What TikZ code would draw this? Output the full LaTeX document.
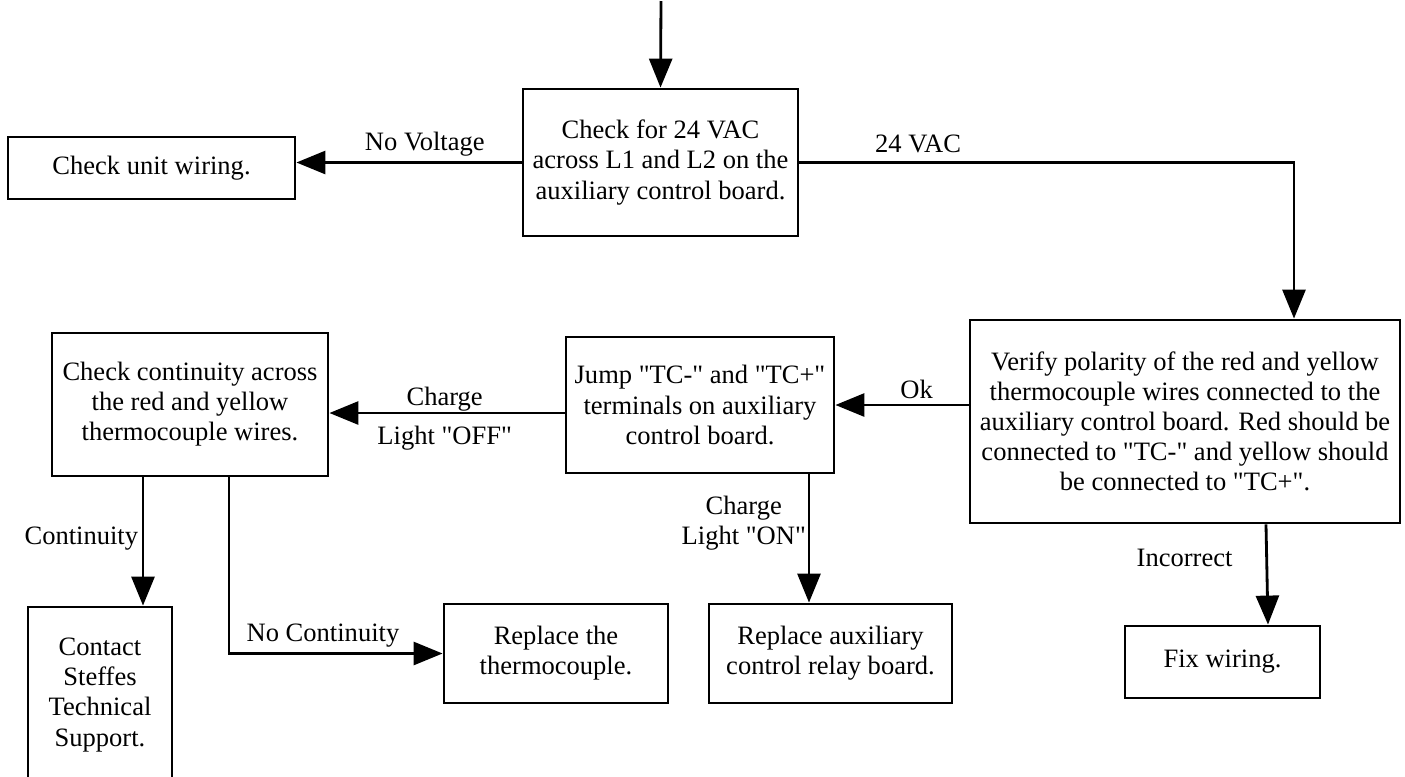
\documentclass[tikz,border=0pt]{standalone}
\usepackage{fontspec}
\setmainfont{Liberation Serif}
\usetikzlibrary{arrows.meta,positioning,calc}
\newcommand{\qt}[1]{\textquotedbl#1\textquotedbl}
\tikzset{
  flowarr/.style={-{Triangle[length=0.58cm,width=0.46cm]}, line width=1.6pt, draw=black},
  flowbox/.style={draw, line width=1.6pt, align=center, inner sep=3pt},
  flowlbl/.style={font=\fontsize{15.1}{17.1}\selectfont, inner sep=3pt},
}

\begin{document}
\begin{tikzpicture}[
  font=\fontsize{15.1}{17.1}\selectfont,
  bx/.style={flowbox, minimum width=#1},
]
  \clip (0,0) rectangle (28.1,-15.52);
  \coordinate (entry) at (13.22,-0.02);
  % boxes
  \node[bx=5.5cm, minimum height=2.94cm] (chk24) at (13.21,-3.25) {Check for 24 VAC\\across L1 and L2 on the\\auxiliary control board.};
  \node[bx=5.74cm, minimum height=1.24cm] (unitw) at (3.03,-3.36) {Check unit wiring.};
  \node[bx=8.6cm, minimum height=4.06cm] (verify) at (23.70,-8.43) {Verify polarity of the red and yellow\\thermocouple wires connected to the\\auxiliary control board. Red should be\\connected to \qt{TC-} and yellow should\\be connected to \qt{TC+}.};
  \node[bx=5.36cm, minimum height=2.72cm] (jump) at (14.0,-8.1) {Jump \qt{TC-} and \qt{TC+}\\terminals on auxiliary\\control board.};
  \node[bx=5.52cm, minimum height=2.86cm] (cont) at (3.8,-8.09) {Check continuity across\\the red and yellow\\thermocouple wires.};
  \node[bx=2.88cm, minimum height=3.52cm] (contact) at (2.0,-13.9) {Contact\\Steffes\\Technical\\Support.};
  \node[bx=4.48cm, minimum height=1.98cm] (rthermo) at (11.12,-13.07) {Replace the\\thermocouple.};
  \node[bx=4.86cm, minimum height=1.98cm] (relay) at (16.61,-13.07) {Replace auxiliary\\control relay board.};
  \node[bx=3.9cm, minimum height=1.44cm] (fix) at (24.45,-13.24) {Fix wiring.};
  % connectors
  \draw[flowarr] (entry) -- (chk24.north);
  \draw[flowarr] (chk24.west) -- node[flowlbl, pos=0.43, above] {No Voltage} (chk24.west -| unitw.east);
  \draw[flowarr] (chk24.east) -| node[flowlbl, pos=0.12, above, yshift=0.05cm] {24 VAC} ([xshift=2.18cm]verify.north);
  \draw[flowarr] (verify.west |- jump.east) -- node[flowlbl, pos=0.39, above] {Ok} (jump.east);
  \draw[flowarr] ([yshift=-0.16cm]jump.west) -- node[flowlbl, pos=0.51, above, yshift=-0.1cm] {Charge}
    node[flowlbl, pos=0.51, below, yshift=-0.12cm] {Light \qt{OFF}} ([yshift=-0.16cm]jump.west -| cont.east);
  \draw[flowarr] ([xshift=2.18cm]jump.south) -- node[flowlbl, pos=0.38, left, align=center, inner sep=1pt] {Charge\\Light \qt{ON}} ([xshift=2.18cm]jump.south |- relay.north);
  \draw[flowarr] ([xshift=-0.94cm]cont.south) -- node[flowlbl, pos=0.46, left, inner sep=2pt, yshift=-0.05cm] {Continuity} ([xshift=-0.94cm]cont.south |- contact.north);
  \draw[flowarr] ([xshift=0.78cm]cont.south) |- node[flowlbl, pos=0.72, above] {No Continuity} (rthermo.west);
  \draw[flowarr] ([xshift=1.62cm]verify.south) -- node[flowlbl, pos=0.33, left=0.55cm] {Incorrect} ([xshift=0.91cm]fix.north);
\end{tikzpicture}
\end{document}
